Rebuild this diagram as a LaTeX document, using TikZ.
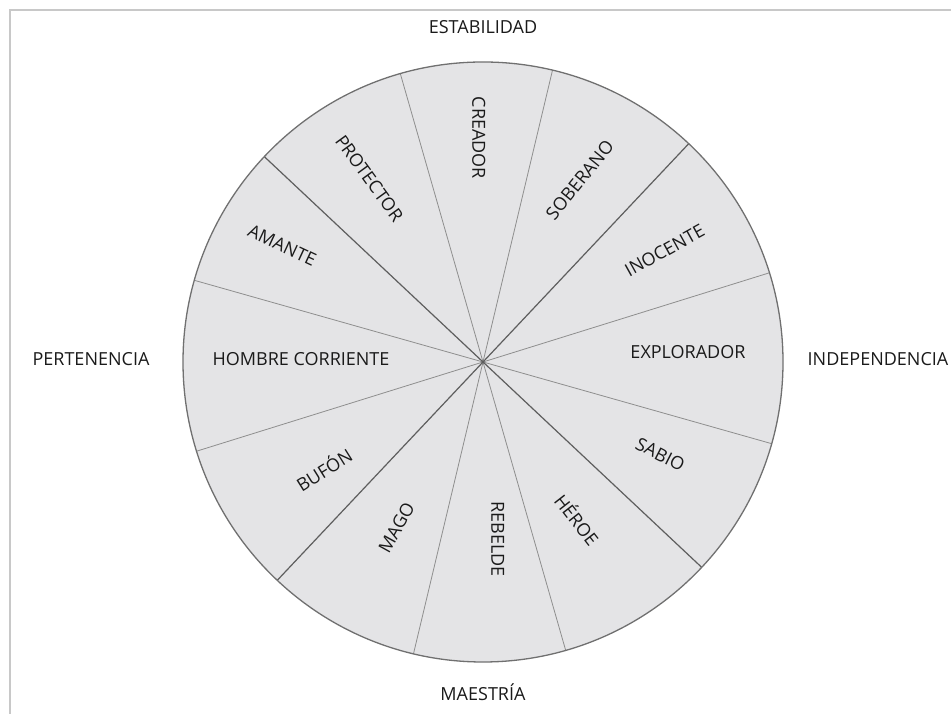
\documentclass[tikz,border=0pt]{standalone}
\usepackage{fontspec}
\setmainfont{Open Sans}
\definecolor{wheelfill}{HTML}{E4E4E6}
\definecolor{rimgray}{HTML}{707070}
\definecolor{spokethin}{HTML}{8E8E8E}
\definecolor{spokethick}{HTML}{5E5E5E}
\definecolor{framegray}{HTML}{C8C8C8}
\definecolor{labeltext}{HTML}{1A1A1A}
\tikzset{
  lbl/.style={font=\fontsize{18}{21}\selectfont, text=labeltext,
    inner sep=0pt, text height=0.714em, text depth=0pt, anchor=center},
  thinspoke/.style={draw=spokethin, line width=0.8pt},
  thickspoke/.style={draw=spokethick, line width=1.2pt},
}
\begin{document}
\begin{tikzpicture}[x=1pt,y=1pt]
\useasboundingbox (0,0) rectangle (951,714);
% page frame, open to the right and bottom
\draw[framegray, line width=1.5pt] (10,0) -- (10,704) -- (951,704);

% wheel
\coordinate (c) at (483,352);
\fill[wheelfill] (c) circle (300);
\foreach \a [count=\i] in {17.3,76.6,106,164.2,197.3,256.6,286,344.2}
  \path (c) ++(\a:300) coordinate (t\i);
\foreach \a [count=\i] in {46.7,136.8,226.7,316.8}
  \path (c) ++(\a:300) coordinate (q\i);
\foreach \i in {1,...,8} \draw[thinspoke] (c) -- (t\i);
\foreach \i in {1,...,4} \draw[thickspoke] (c) -- (q\i);
\draw[rimgray, line width=1.3pt] (c) circle (300);

% archetypes
\node[lbl, rotate=-90] (creador)   at (476,576) {CREADOR};
\node[lbl, rotate=51]  (soberano)  at (582,532) {SOBERANO};
\node[lbl, rotate=29]  (inocente)  at (666,461) {INOCENTE};
\node[lbl]             (explorador) at (688,359) {EXPLORADOR};
\node[lbl, rotate=-27] (sabio)     at (659,257) {SABIO};
\node[lbl, rotate=-52] (heroe)     at (574,192) {HÉROE};
\node[lbl, rotate=-90] (rebelde)   at (495,175) {REBELDE};
\node[lbl, rotate=61]  (mago)      at (399,185) {MAGO};
\node[lbl, rotate=32]  (bufon)     at (326,241) {BUFÓN};
\node[lbl]             (hombre)    at (301,352) {HOMBRE CORRIENTE};
\node[lbl, rotate=-25] (amante)    at (281,466) {AMANTE};
\node[lbl, rotate=-54] (protector) at (367,534) {PROTECTOR};

% axes
\node[lbl] (estabilidad)   at (483,684) {ESTABILIDAD};
\node[lbl] (pertenencia)   at (91,352)  {PERTENENCIA};
\node[lbl] (independencia) at (878,352) {INDEPENDENCIA};
\node[lbl] (maestria)      at (483,17)  {MAESTRÍA};
\end{tikzpicture}
\end{document}
